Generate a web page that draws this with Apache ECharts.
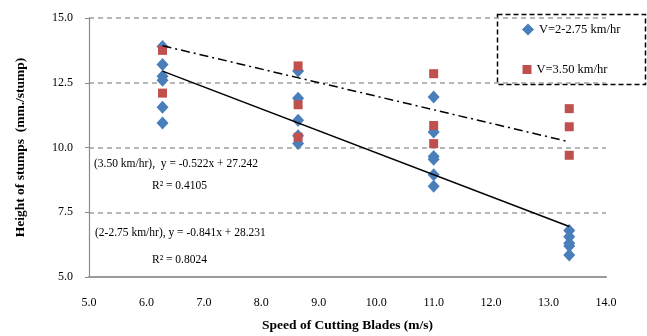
<!DOCTYPE html>
<html>
<head>
<meta charset="utf-8">
<script src="https://cdn.jsdelivr.net/npm/echarts@6/dist/echarts.min.js"></script>
<style>
html,body{margin:0;padding:0;background:#fff;}
#chart{width:647px;height:336px;}
</style>
</head>
<body>
<div id="chart"></div>
<script>
// Blade speeds (m/s) at which stumps were measured
const bladeSpeeds = [6.28, 8.64, 11.0, 13.36];
// Stump heights (mm/stump) for V = 2-2.75 km/hr, one list per blade speed
const heightsLowV = [
  [13.9, 13.2, 12.75, 12.6, 11.55, 10.95],
  [12.95, 11.9, 11.05, 10.45, 10.15],
  [11.95, 10.6, 9.65, 9.55, 8.95, 8.5],
  [6.8, 6.55, 6.3, 6.2, 5.85]
];
// Stump heights for V = 3.50 km/hr
const heightsHighV = [
  [13.75, 12.1],
  [13.15, 11.65, 10.4],
  [12.85, 10.85, 10.15],
  [11.5, 10.8, 9.7]
];
// Trend line end points
const trendLowV = [[6.28, 12.95], [13.36, 6.95]];
const trendHighV = [[6.28, 13.93], [13.36, 10.22]];
const seriesNames = ['V=2-2.75 km/hr', 'V=3.50 km/hr'];
const yTicks = [5, 15, 2.5];
const xTicks = [5, 14, 1];

function toPoints(speeds, lists) {
  const pts = [];
  lists.forEach((list, i) => list.forEach(v => pts.push([speeds[i], v])));
  return pts;
}

const serif = '"Liberation Serif", "Times New Roman", serif';
const chart = echarts.init(document.getElementById('chart'), null, {renderer: 'canvas'});

chart.setOption({
  animation: false,
  backgroundColor: '#fff',
  grid: {left: 89, right: 41, top: 18, bottom: 59, containLabel: false, outerBoundsMode: 'none'},
  xAxis: {
    type: 'value', min: xTicks[0], max: xTicks[1], interval: xTicks[2],
    name: 'Speed of Cutting Blades (m/s)', nameLocation: 'middle', nameGap: 42,
    nameTextStyle: {fontFamily: serif, fontWeight: 'bold', fontSize: 13.5, color: '#000'},
    axisLine: {lineStyle: {color: '#9a9a9a', width: 2}},
    axisTick: {show: false},
    splitLine: {show: false},
    axisLabel: {fontFamily: serif, fontSize: 12, color: '#000', margin: 20, formatter: v => v.toFixed(1)}
  },
  yAxis: {
    type: 'value', min: yTicks[0], max: yTicks[1], interval: yTicks[2],
    name: 'Height of stumps  (mm./stump)', nameLocation: 'middle', nameGap: 61, nameRotate: 90,
    nameTextStyle: {fontFamily: serif, fontWeight: 'bold', fontSize: 13.5, color: '#000'},
    axisLine: {show: true, lineStyle: {color: '#8a8a8a', width: 1.2}},
    axisTick: {show: true, length: 4, lineStyle: {color: '#8a8a8a'}},
    splitLine: {show: true, lineStyle: {color: '#a0a0a0', width: 1.5, type: [5, 4]}},
    axisLabel: {fontFamily: serif, fontSize: 12, color: '#000', margin: 16, formatter: v => v.toFixed(1)}
  },
  legend: [
    {data: [seriesNames[0]], left: 522, top: 23, itemWidth: 12, itemHeight: 12, itemGap: 0,
     textStyle: {fontFamily: serif, fontSize: 12.5, color: '#000'}, padding: 0},
    {data: [seriesNames[1]], left: 522.5, top: 63, itemWidth: 9, itemHeight: 9, itemGap: 0,
     textStyle: {fontFamily: serif, fontSize: 12.5, color: '#000'}, padding: 0}
  ],
  graphic: [
    {type: 'rect', left: 495, top: 12, shape: {width: 148, height: 70},
     style: {fill: 'none', stroke: '#000', lineWidth: 1.5, lineDash: [5, 3]}},
    {type: 'text', left: 94, top: 158, style: {text: '(3.50 km/hr),  y = -0.522x + 27.242', font: '11.5px ' + serif, fill: '#000'}},
    {type: 'text', left: 152, top: 180, style: {text: 'R\u00b2 = 0.4105', font: '11.5px ' + serif, fill: '#000'}},
    {type: 'text', left: 95, top: 227, style: {text: '(2-2.75 km/hr), y = -0.841x + 28.231', font: '11.5px ' + serif, fill: '#000'}},
    {type: 'text', left: 152, top: 254, style: {text: 'R\u00b2 = 0.8024', font: '11.5px ' + serif, fill: '#000'}}
  ],
  series: [
    {name: seriesNames[0], type: 'scatter', symbol: 'diamond', symbolSize: [12, 13],
     itemStyle: {color: '#4a7ebb', opacity: 1}, data: toPoints(bladeSpeeds, heightsLowV), z: 3},
    {name: seriesNames[1], type: 'scatter', symbol: 'rect', symbolSize: 9,
     itemStyle: {color: '#c0504d', opacity: 1}, data: toPoints(bladeSpeeds, heightsHighV), z: 4},
    {type: 'line', data: trendLowV, symbol: 'none', silent: true, z: 5,
     lineStyle: {color: '#000', width: 1.5}},
    {type: 'line', data: trendHighV, symbol: 'none', silent: true, z: 5,
     lineStyle: {color: '#000', width: 1.5, type: [9, 4, 2, 4]}}
  ]
});
</script>
</body>
</html>
